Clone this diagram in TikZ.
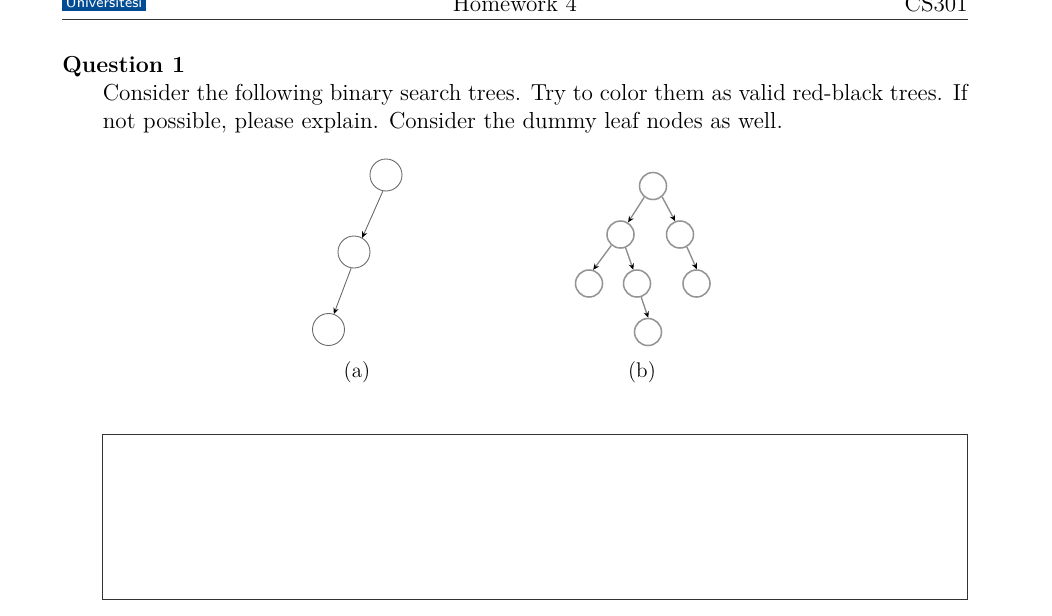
\documentclass[tikz,border=0pt]{standalone}
\usepackage{amsmath}
\usetikzlibrary{arrows.meta,positioning}
\definecolor{logoblue}{HTML}{004B93}
\definecolor{ruleblack}{HTML}{333333}
\tikzset{
  every node/.style={font=\fontsize{12}{14.5}\selectfont},
  texte/.style={inner sep=0,anchor=base west},
  texth/.style={inner sep=0,anchor=base},
  captext/.style={inner sep=0,anchor=base,font=\fontsize{11}{13}\selectfont},
  treeA/.style={circle,draw=black!60,line width=0.45pt,minimum size=16.6pt,inner sep=0},
  treeB/.style={circle,draw=black!42,line width=0.8pt,minimum size=14pt,inner sep=0},
  edgeA/.style={black!60,line width=0.45pt},
  edgeB/.style={black!45,line width=0.7pt},
}
\newcommand{\VertexA}[2]% pos, name
{\node[treeA] (#2) at (#1) {};
}
\newcommand{\VertexB}[2]% pos, name
{\node[treeB] (#2) at (#1) {};
}
\newcommand{\Arrow}[3]%
{\draw[-{Stealth[black,length=3.2pt,width=2.8pt]},#3] (#1) -- (#2);
}
\begin{document}
\begin{tikzpicture}[x=0.5185pt,y=-0.5185pt]
      \useasboundingbox (0,0) rectangle (1052,616);
      % page head
      \node[fill=logoblue,minimum width=43.5pt,minimum height=14pt,inner sep=0,anchor=south west] (logo) at (62,11) {};
      \node[texth,text=white,font=\sffamily\fontsize{7.9}{9}\selectfont] (logotext) at (104,7) {Universitesi};
      \node[texth] (hw) at (515,11) {Homework 4};
      \node[inner sep=0,anchor=base east] (course) at (968,11) {CS301};
      \coordinate (ruleL) at (62,19.5);
      \coordinate (ruleR) at (968,19.5);
      \draw[ruleblack,line width=0.4pt] (ruleL) -- (ruleR);
      % question
      \node[texte,font=\fontsize{12}{14.5}\selectfont\bfseries] (q) at (62,72.5) {Question 1};
      \node[inner sep=0,anchor=north west,text width=448.5pt,align=justify] (body) at (102.5,84)
        {Consider the following binary search trees. Try to color them as valid red-black trees. If\linebreak not possible, please explain. Consider the dummy leaf nodes as well.};
      % tree a
      \VertexA{386,175}{a1}
      \VertexA{354,252}{a2}
      \VertexA{328.5,329.5}{a3}
      \Arrow{a1.-101}{a2.60}{edgeA}
      \Arrow{a2.-100}{a3.71}{edgeA}
      \node[captext] (capa) at (357,377) {(a)};
      % tree b
      \VertexB{653,186}{b1}
      \VertexB{620.5,234.5}{b2}
      \VertexB{680,234.5}{b3}
      \VertexB{589,283.5}{b4}
      \VertexB{637,283.5}{b5}
      \VertexB{696.5,283.5}{b6}
      \VertexB{648,332}{b7}
      \Arrow{b1.-128}{b2.58}{edgeB}
      \Arrow{b1.-50}{b3.110}{edgeB}
      \Arrow{b2.-130}{b4.73}{edgeB}
      \Arrow{b2.-69}{b5.105}{edgeB}
      \Arrow{b3.-61}{b6.89}{edgeB}
      \Arrow{b5.-73}{b7.89}{edgeB}
      \node[captext] (capb) at (642,377) {(b)};
      % answer box
      \node[draw=ruleblack,line width=0.4pt,minimum width=448.5pt,minimum height=86pt,inner sep=0,anchor=north west] (answer) at (102.2,433.5) {};
\end{tikzpicture}
\end{document}
